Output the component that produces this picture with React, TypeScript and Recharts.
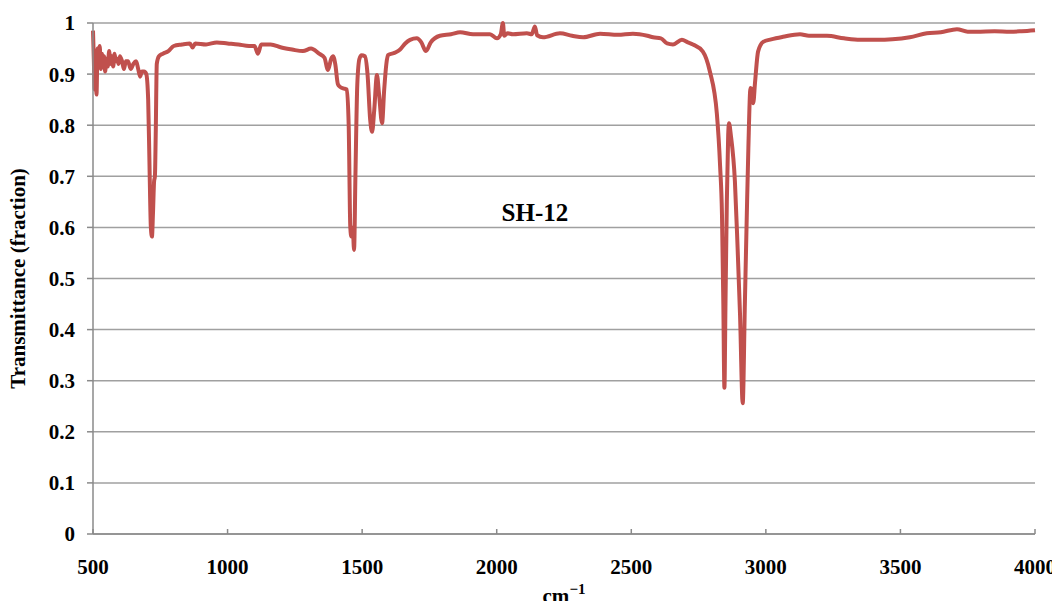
import React from 'react';
import { LineChart, Line, XAxis, YAxis, CartesianGrid, ReferenceDot } from 'recharts';

const wavenumbers = [
  500, 503, 506, 510, 513, 517, 521, 525, 529, 533, 537, 541, 545, 550, 555, 560, 565, 570, 575, 580,
  585, 590, 595, 600, 608, 615, 622, 630, 640, 650, 660, 668, 675, 682, 690, 698, 705, 710, 715, 719,
  723, 727, 730, 733, 737, 745, 760, 780, 800, 830, 860, 870, 880, 920, 960, 1000, 1040, 1080, 1100, 1113,
  1125, 1160, 1200, 1240, 1280, 1310, 1340, 1360, 1373, 1385, 1392, 1400, 1410, 1418, 1430, 1443, 1450, 1456, 1460, 1465,
  1470, 1475, 1482, 1490, 1498, 1510, 1520, 1530, 1537, 1545, 1555, 1563, 1574, 1582, 1590, 1596, 1622, 1641, 1660, 1678,
  1703, 1720, 1737, 1755, 1789, 1830, 1864, 1912, 1975, 2001, 2015, 2023, 2028, 2040, 2060, 2112, 2130, 2142, 2150, 2172,
  2235, 2280, 2321, 2384, 2450, 2506, 2560, 2581, 2610, 2633, 2655, 2688, 2710, 2729, 2766, 2792, 2818, 2830, 2837, 2842,
  2846, 2850, 2855, 2860, 2863, 2870, 2885, 2895, 2904, 2914, 2922, 2929, 2935, 2943, 2948, 2953, 2960, 2971, 2990, 3020,
  3064, 3127, 3160, 3227, 3290, 3350, 3412, 3470, 3535, 3598, 3650, 3710, 3750, 3784, 3850, 3907, 3950, 4000,
];

const transmittance = [
  0.985, 0.93, 0.87, 0.9, 0.86, 0.95, 0.93, 0.955, 0.91, 0.94, 0.92, 0.935, 0.905, 0.93, 0.915, 0.945, 0.92, 0.935, 0.915, 0.94,
  0.925, 0.93, 0.92, 0.935, 0.925, 0.91, 0.925, 0.925, 0.91, 0.92, 0.925, 0.91, 0.895, 0.905, 0.905, 0.9, 0.85, 0.72, 0.6, 0.582,
  0.63, 0.69, 0.7, 0.78, 0.92, 0.935, 0.94, 0.945, 0.955, 0.958, 0.96, 0.952, 0.96, 0.958, 0.962, 0.96, 0.958, 0.955, 0.955, 0.94,
  0.958, 0.958, 0.952, 0.948, 0.945, 0.95, 0.94, 0.932, 0.908, 0.93, 0.935, 0.92, 0.88, 0.875, 0.872, 0.87, 0.8, 0.6, 0.582, 0.6,
  0.556, 0.7, 0.88, 0.93, 0.937, 0.935, 0.9, 0.81, 0.787, 0.83, 0.898, 0.86, 0.804, 0.87, 0.92, 0.937, 0.942, 0.948, 0.96, 0.967,
  0.97, 0.962, 0.945, 0.962, 0.975, 0.978, 0.982, 0.978, 0.978, 0.97, 0.978, 1.0, 0.975, 0.98, 0.978, 0.98, 0.978, 0.993, 0.976, 0.972,
  0.98, 0.975, 0.972, 0.979, 0.977, 0.979, 0.975, 0.972, 0.97, 0.96, 0.958, 0.967, 0.962, 0.958, 0.944, 0.905, 0.822, 0.72, 0.624, 0.45,
  0.286, 0.45, 0.65, 0.78, 0.804, 0.78, 0.69, 0.56, 0.43, 0.256, 0.45, 0.62, 0.755, 0.873, 0.87, 0.843, 0.885, 0.944, 0.963, 0.968,
  0.973, 0.978, 0.975, 0.975, 0.97, 0.967, 0.967, 0.968, 0.972, 0.98, 0.982, 0.988, 0.983, 0.983, 0.984, 0.983, 0.984, 0.986,
];

const xTicks = [500, 1000, 1500, 2000, 2500, 3000, 3500, 4000];
const yTicks = [0, 0.1, 0.2, 0.3, 0.4, 0.5, 0.6, 0.7, 0.8, 0.9, 1];

const data = wavenumbers.map((w, i) => ({ w, t: transmittance[i] }));

const font = '"Liberation Serif", "Times New Roman", serif';
const tickStyle = { fontFamily: font, fontWeight: 700, fontSize: 21, fill: '#000' };

const XTitle = (props: any) => {
  const vb = props.viewBox || {};
  const cx = (vb.x ?? 0) + (vb.width ?? 0) / 2;
  const y = (vb.y ?? 0) + 69;
  return (
    <text x={cx} y={y} textAnchor="middle" fontFamily={font} fontWeight={700} fontSize={21} fill="#000">
      <tspan>cm</tspan>
      <tspan dy={-9} fontSize={15}>−1</tspan>
    </text>
  );
};

export default function App() {
  return (
    <div style={{ margin: -8, width: 1060, height: 609, overflow: 'hidden' }}>
      <LineChart
        width={1060}
        height={609}
        data={data}
        margin={{ top: 23, right: 25, bottom: 35, left: 33 }}
      >
        <CartesianGrid vertical={false} stroke="#A0A0A0" strokeWidth={1.5} />
        <XAxis
          dataKey="w"
          type="number"
          domain={[500, 4000]}
          ticks={xTicks}
          height={40}
          stroke="#8A8A8A"
          strokeWidth={1.5}
          tickSize={-5}
          tickMargin={30}
          tick={tickStyle}
          interval={0}
          label={XTitle}
        />
        <YAxis
          type="number"
          domain={[0, 1]}
          ticks={yTicks}
          width={60}
          stroke="#8A8A8A"
          strokeWidth={1.5}
          tickSize={6}
          tickMargin={12}
          tick={tickStyle}
          interval={0}
          tickFormatter={(v: number) => String(Math.round(v * 10) / 10)}
          label={{ value: 'Transmittance (fraction)', angle: -90, position: 'insideLeft', offset: -15, style: { textAnchor: 'middle', fontFamily: font, fontWeight: 700, fontSize: 21, fill: '#000' } }}
        />
        <Line
          type="monotone"
          dataKey="t"
          stroke="#C0504D"
          strokeWidth={4}
          dot={false}
          isAnimationActive={false}
        />
        <ReferenceDot
          x={2142}
          y={0.63}
          r={0}
          fill="none"
          stroke="none"
          label={{ value: 'SH-12', position: 'center', style: { fontFamily: font, fontWeight: 700, fontSize: 25, fill: '#000' } }}
        />
      </LineChart>
    </div>
  );
}
